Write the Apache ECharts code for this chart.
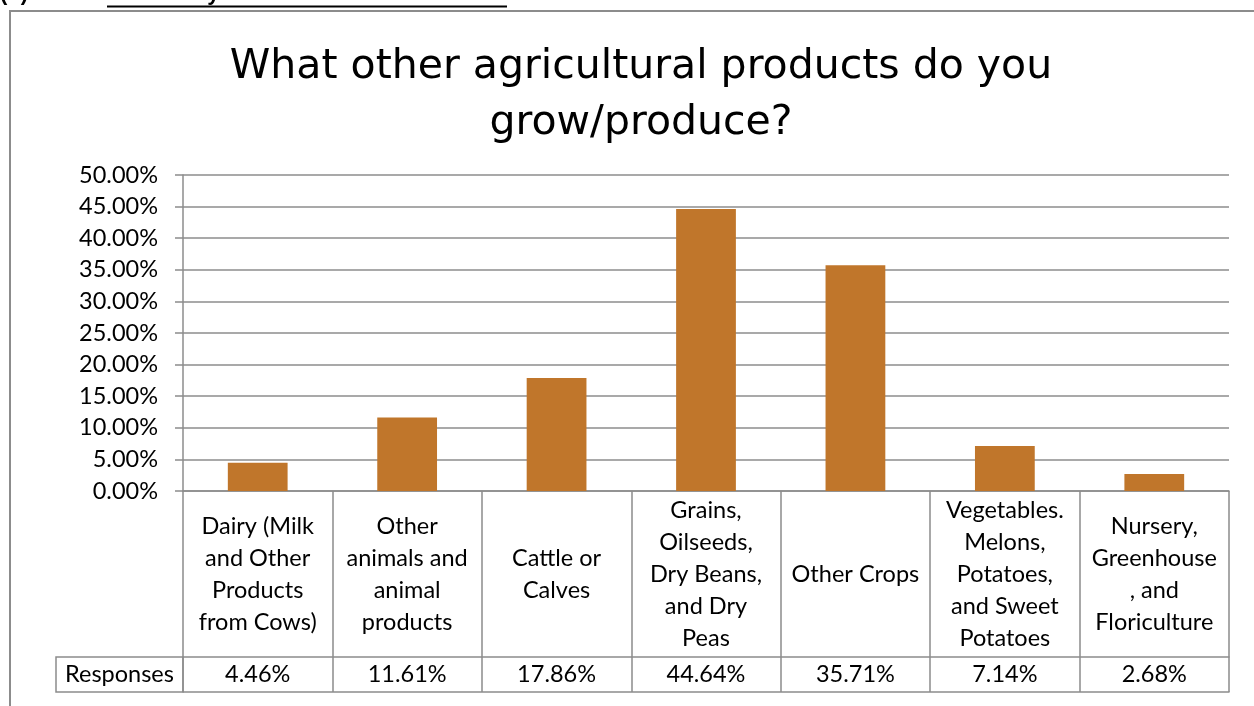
<!DOCTYPE html>
<html>
<head>
<meta charset="utf-8">
<script src="https://cdn.jsdelivr.net/npm/echarts@6/dist/echarts.min.js"></script>
<style>
html,body{margin:0;padding:0;background:#fff;}
#c{width:1254px;height:706px;}
</style>
</head>
<body>
<div id="c"></div>
<script>
var categories = [
  'Dairy (Milk\nand Other\nProducts\nfrom Cows)',
  'Other\nanimals and\nanimal\nproducts',
  'Cattle or\nCalves',
  'Grains,\nOilseeds,\nDry Beans,\nand Dry\nPeas',
  'Other Crops',
  'Vegetables.\nMelons,\nPotatoes,\nand Sweet\nPotatoes',
  'Nursery,\nGreenhouse\n, and\nFloriculture'
];
var responses = [4.46, 11.61, 17.86, 44.64, 35.71, 7.14, 2.68];
var yTicks = [0, 5, 10, 15, 20, 25, 30, 35, 40, 45, 50];
var seriesName = 'Responses';
var titleText = 'What other agricultural products do you\ngrow/produce?';
var headingLabel = '(b)';
var headingText = 'Secondary/Additional Product';

var GRID_LEFT = 183, GRID_RIGHT = 25, GRID_TOP = 175, GRID_BOTTOM = 215;
var CAT_ROW = 166, VAL_ROW = 35;
var gray = '#8c8c8c';
var font = 'Lato, "Open Sans", sans-serif';
var FS = 23.5;
var H = 706, W = 1254;
var axisY = H - GRID_BOTTOM;

var chart = echarts.init(document.getElementById('c'), null, {renderer: 'canvas'});
var fmt = function (v) { return v.toFixed(2) + '%'; };

chart.setOption({
  animation: false,
  backgroundColor: '#fff',
  title: {
    text: titleText,
    left: 636, top: 34, textAlign: 'center',
    textStyle: {fontFamily: '"DejaVu Sans", sans-serif', fontSize: 41, fontWeight: 'normal', color: '#000', lineHeight: 56}
  },
  grid: {left: GRID_LEFT, right: GRID_RIGHT, top: GRID_TOP, bottom: GRID_BOTTOM, containLabel: false},
  xAxis: [
    {
      type: 'category', data: categories, position: 'bottom',
      axisLine: {show: true, lineStyle: {color: gray, width: 1.5}},
      axisTick: {show: true, length: CAT_ROW, interval: 0, lineStyle: {color: gray, width: 1.5}},
      axisLabel: {interval: 0, margin: CAT_ROW / 2, verticalAlign: 'middle', align: 'center',
        fontFamily: font, fontSize: FS, lineHeight: 32, color: '#000'},
      splitLine: {show: false}
    },
    {
      type: 'category', data: responses.map(fmt), position: 'bottom', offset: CAT_ROW,
      axisLine: {show: true, lineStyle: {color: gray, width: 1.5}},
      axisTick: {show: true, length: VAL_ROW, interval: 0, lineStyle: {color: gray, width: 1.5}},
      axisLabel: {interval: 0, margin: VAL_ROW / 2, verticalAlign: 'middle', align: 'center',
        fontFamily: font, fontSize: FS, color: '#000'},
      splitLine: {show: false}
    },
    {
      type: 'category', data: categories, position: 'bottom', offset: CAT_ROW + VAL_ROW,
      axisLine: {show: true, lineStyle: {color: gray, width: 1.5}},
      axisTick: {show: false}, axisLabel: {show: false}, splitLine: {show: false}
    }
  ],
  yAxis: {
    type: 'value', min: 0, max: 50, interval: 5,
    axisLine: {show: true, lineStyle: {color: gray, width: 1.5}},
    axisTick: {show: true, length: 8, lineStyle: {color: gray, width: 1.5}},
    axisLabel: {margin: 25, fontFamily: font, fontSize: FS, color: '#000',
      formatter: function (v) { return yTicks.indexOf(v) >= 0 ? v.toFixed(2) + '%' : ''; }},
    splitLine: {show: true, lineStyle: {color: gray, width: 1.5}}
  },
  series: [{
    name: seriesName, type: 'bar', xAxisIndex: 0, data: responses,
    barCategoryGap: '60%',
    itemStyle: {color: '#C0762B'}
  }],
  graphic: [
    {type: 'rect', shape: {x: 10, y: 11, width: W + 50, height: H + 50}, style: {fill: null, stroke: gray, lineWidth: 2}, silent: true, z: 0},
    {type: 'rect', shape: {x: 56, y: axisY + CAT_ROW, width: GRID_LEFT - 56, height: VAL_ROW}, style: {fill: null, stroke: gray, lineWidth: 1.5}, silent: true},
    {type: 'text', x: (56 + GRID_LEFT) / 2, y: axisY + CAT_ROW + VAL_ROW / 2,
      style: {text: seriesName, fontFamily: font, fontSize: FS, fill: '#000', textAlign: 'center', textVerticalAlign: 'middle'}},
    {type: 'text', x: 0, y: 5, style: {text: headingLabel, fontFamily: '"Liberation Sans", sans-serif', fontWeight: 'bold', fontSize: 22, fill: '#000', textAlign: 'left', textVerticalAlign: 'bottom'}},
    {type: 'text', x: 107, y: 5, style: {text: headingText, fontFamily: '"Liberation Sans", sans-serif', fontWeight: 'bold', fontSize: 22, fill: '#000', textAlign: 'left', textVerticalAlign: 'bottom'}},
    {type: 'line', shape: {x1: 107, y1: 6.5, x2: 507, y2: 6.5}, style: {stroke: '#000', lineWidth: 2}}
  ]
});
</script>
</body>
</html>
